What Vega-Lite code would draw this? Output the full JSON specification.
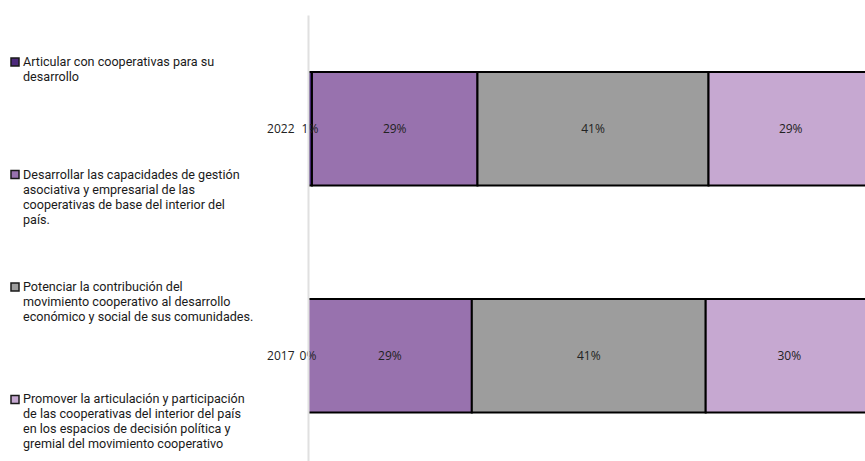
{
  "$schema": "https://vega.github.io/schema/vega-lite/v6.json",
  "padding": {"left": 8, "top": 15, "right": 0, "bottom": 0},
  "background": "white",
  "spacing": 0,
  "config": {"view": {"stroke": null}},
  "datasets": {
    "legendItems": [
      {"cat": "Articular", "order": 1, "label": " Articular con cooperativas para su\ndesarrollo"},
      {"cat": "Desarrollar", "order": 2, "label": "Desarrollar las capacidades de gestión\nasociativa y empresarial de las\ncooperativas de base del interior del\npaís."},
      {"cat": "Potenciar", "order": 3, "label": "Potenciar la contribución del\nmovimiento cooperativo al desarrollo\neconómico y social de sus comunidades."},
      {"cat": "Promover", "order": 4, "label": "Promover la articulación y participación\nde las cooperativas del interior del país\nen los espacios de decisión política y\ngremial del movimiento cooperativo"}
    ],
    "bars": [
      {"year": "2022", "cat": "Articular", "order": 1, "value": 0.007},
      {"year": "2022", "cat": "Desarrollar", "order": 2, "value": 0.293},
      {"year": "2022", "cat": "Potenciar", "order": 3, "value": 0.409},
      {"year": "2022", "cat": "Promover", "order": 4, "value": 0.291},
      {"year": "2017", "cat": "Articular", "order": 1, "value": 0.0},
      {"year": "2017", "cat": "Desarrollar", "order": 2, "value": 0.29},
      {"year": "2017", "cat": "Potenciar", "order": 3, "value": 0.414},
      {"year": "2017", "cat": "Promover", "order": 4, "value": 0.296}
    ]
  },
  "hconcat": [
    {
      "width": 251,
      "height": 431.5,
      "data": {"name": "legendItems"},
      "encoding": {
        "y": {"field": "cat", "type": "nominal", "sort": ["Articular", "Desarrollar", "Potenciar", "Promover"], "scale": {"type": "point", "padding": 0.418}, "axis": null},
        "x": {"datum": 0, "type": "quantitative", "scale": {"domain": [0, 1]}, "axis": null}
      },
      "layer": [
        {
          "mark": {"type": "point", "shape": "square", "size": 64, "filled": true, "stroke": "#1a1a1a", "strokeWidth": 1.5, "opacity": 1},
          "encoding": {
            "color": {"field": "cat", "type": "nominal", "scale": {"domain": ["Articular", "Desarrollar", "Potenciar", "Promover"], "range": ["#4d2a7c", "#9872ae", "#9d9d9d", "#c6a8d1"]}, "legend": null}
          }
        },
        {
          "mark": {"type": "text", "align": "left", "baseline": "top", "dx": 8, "dy": -6, "font": "Roboto", "fontSize": 12.6, "lineHeight": 15, "lineBreak": "\n", "color": "#1a1a1a"},
          "encoding": {"text": {"field": "label"}}
        }
      ]
    },
    {
      "width": 557,
      "height": 446,
      "data": {"name": "bars"},
      "encoding": {
        "y": {
          "field": "year", "type": "nominal", "sort": ["2022", "2017"],
          "scale": {"paddingInner": 0.5, "paddingOuter": 0.232, "align": 0.54},
          "axis": {"title": null, "ticks": false, "labelPadding": 14, "labelFont": "Open Sans", "labelFontSize": 12, "labelColor": "#222222", "domainColor": "#e0e0e0", "domainWidth": 2, "zindex": 1, "minExtent": 40, "maxExtent": 40}
        }
      },
      "layer": [
        {
          "mark": {"type": "bar", "stroke": "#000000", "strokeWidth": 2, "clip": true},
          "encoding": {
            "x": {"field": "value", "type": "quantitative", "stack": "zero", "scale": {"domain": [0, 0.986], "nice": false, "zero": true}, "axis": null},
            "color": {"field": "cat", "type": "nominal", "legend": null},
            "order": {"field": "order"}
          }
        },
        {
          "mark": {"type": "text", "font": "Open Sans", "fontSize": 12, "color": "#222222"},
          "encoding": {
            "x": {"field": "value", "type": "quantitative", "stack": "zero", "bandPosition": 0.5},
            "order": {"field": "order"},
            "detail": {"field": "cat"},
            "text": {"field": "value", "format": ".0%"}
          }
        }
      ]
    }
  ]
}
